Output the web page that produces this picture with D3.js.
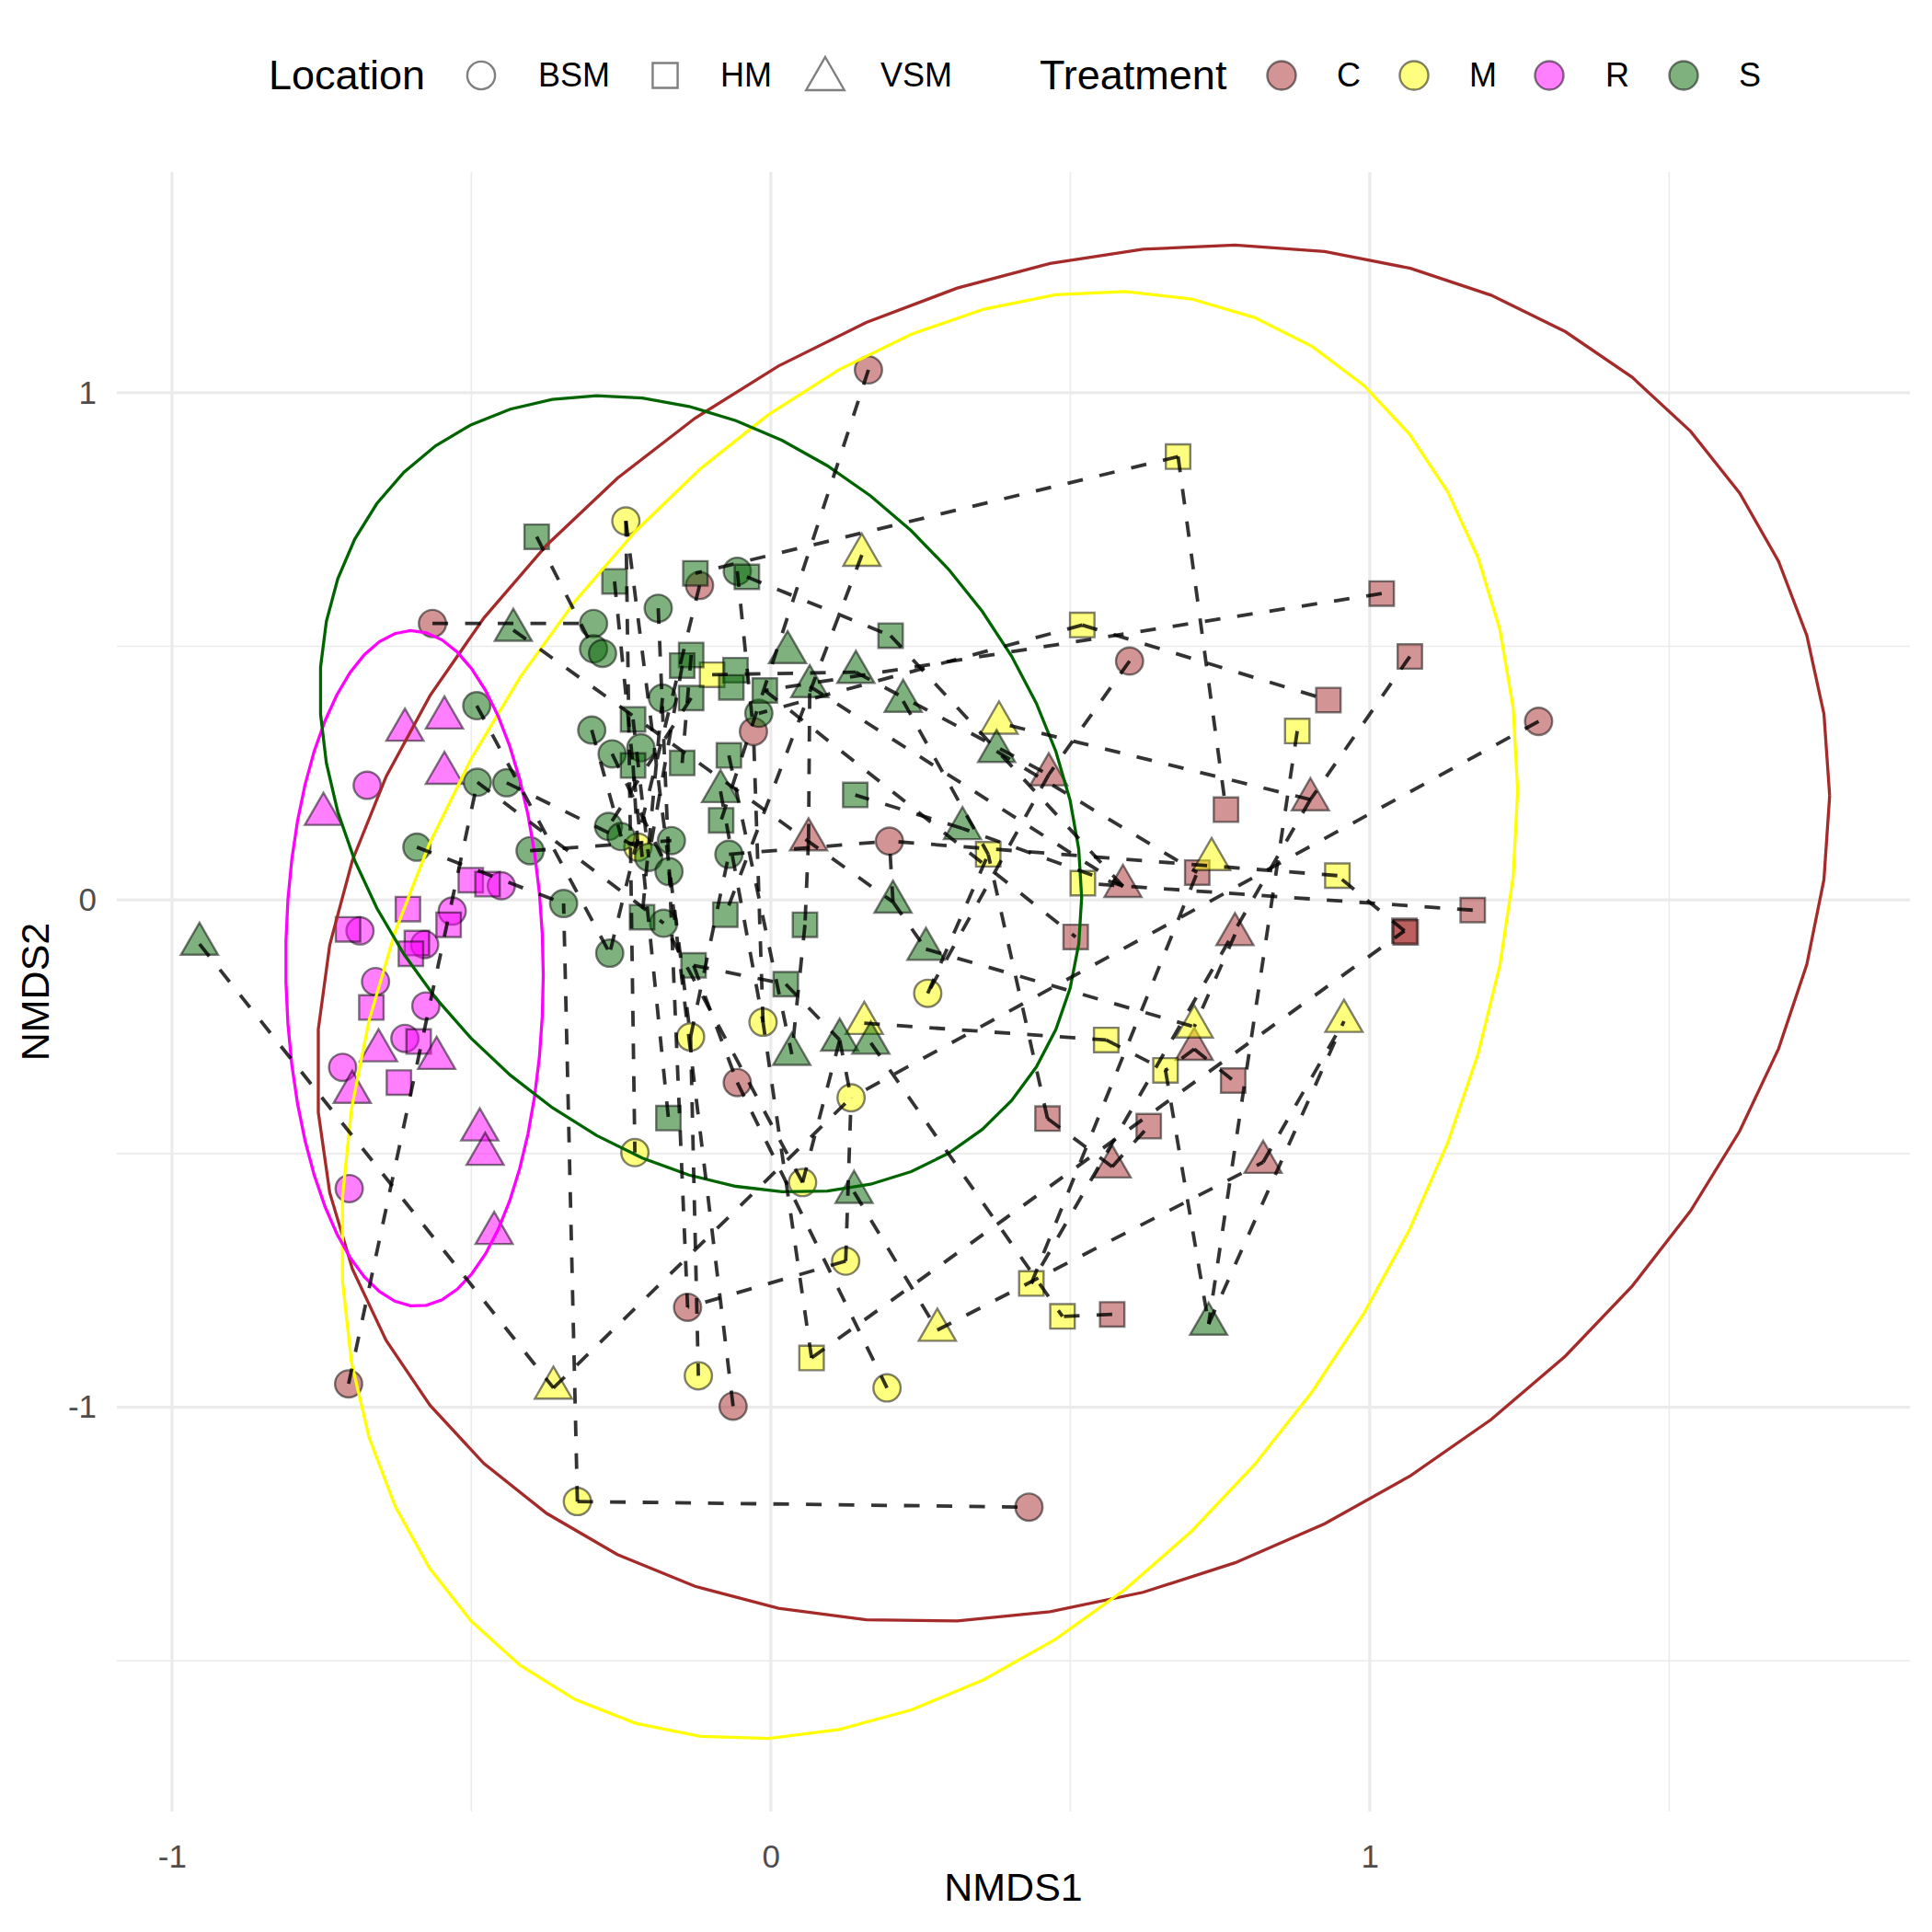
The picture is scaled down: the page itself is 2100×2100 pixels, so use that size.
<!DOCTYPE html>
<html>
<head>
<meta charset="utf-8">
<script src="https://cdn.jsdelivr.net/npm/d3@7"></script>
<style>
  html, body { margin: 0; padding: 0; background: #ffffff; }
  svg text { font-family: "Liberation Sans", Arial, Helvetica, sans-serif; }
</style>
</head>
<body>
<svg id="chart" width="2100" height="2100"></svg>
<script>
// ---------------- DATA ----------------
const locations = ["BSM", "HM", "VSM"];          // circle, square, triangle
const treatments = ["C", "M", "R", "S"];
const treatmentColors = ["#A52A2A", "#FFFF00", "#FF00FF", "#006400"];
const xTicks = [-1, 0, 1];
const yTicks = [-1, 0, 1];
const xMinor = [-0.5, 0.5, 1.5];
const yMinor = [-1.5, -0.5, 0.5];

// [id, location, NMDS1, NMDS2]
const pointsC = [
  ["Cc1","BSM",-0.565,0.545],["Cc2","BSM",0.163,1.045],["Cc3","BSM",-0.119,0.620],
  ["Cc4","BSM",-0.029,0.332],["Cc5","BSM",0.198,0.116],["Cc6","BSM",-0.056,-0.360],
  ["Cc7","BSM",0.599,0.471],["Cc8","BSM",1.282,0.352],["Cc9","BSM",-0.139,-0.803],
  ["Cc10","BSM",-0.063,-0.998],["Cc11","BSM",0.431,-1.197],["Cc12","BSM",-0.705,-0.954],
  ["Cs1","HM",1.020,0.604],["Cs2","HM",1.067,0.480],["Cs3","HM",0.931,0.394],
  ["Cs4","HM",0.760,0.178],["Cs5","HM",1.172,-0.020],["Cs6","HM",1.058,-0.061],
  ["Cs6b","HM",1.060,-0.064],["Cs7","HM",0.712,0.054],["Cs8","HM",0.509,-0.073],
  ["Cs9","HM",0.772,-0.356],["Cs10","HM",0.462,-0.431],["Cs11","HM",0.631,-0.446],
  ["Cs12","HM",0.570,-0.817],
  ["Ct1","VSM",0.464,0.247],["Ct2","VSM",0.901,0.198],["Ct3","VSM",0.588,0.027],
  ["Ct4","VSM",0.775,-0.068],["Ct5","VSM",0.707,-0.294],["Ct6","VSM",0.570,-0.526],
  ["Ct7","VSM",0.822,-0.517],["Ct8","VSM",0.063,0.119]
];
const pointsM = [
  ["Mc1","BSM",-0.242,0.747],["Mc2","BSM",-0.222,0.104],["Mc3","BSM",0.262,-0.184],
  ["Mc4","BSM",-0.013,-0.241],["Mc5","BSM",-0.134,-0.270],["Mc6","BSM",0.134,-0.390],
  ["Mc7","BSM",-0.227,-0.498],["Mc8","BSM",0.053,-0.557],["Mc9","BSM",0.125,-0.712],
  ["Mc10","BSM",-0.121,-0.938],["Mc11","BSM",0.194,-0.962],["Mc12","BSM",-0.323,-1.186],
  ["Ms1","HM",-0.098,0.444],["Ms2","HM",0.363,0.090],["Ms3","HM",0.680,0.874],
  ["Ms4","HM",0.520,0.542],["Ms5","HM",0.879,0.333],["Ms6","HM",0.946,0.048],
  ["Ms7","HM",0.521,0.033],["Ms8","HM",0.560,-0.276],["Ms9","HM",0.659,-0.336],
  ["Ms10","HM",0.068,-0.903],["Ms11","HM",0.435,-0.756],["Ms12","HM",0.487,-0.821],
  ["Mt1","VSM",0.152,0.680],["Mt2","VSM",0.381,0.349],["Mt3","VSM",0.736,0.080],
  ["Mt4","VSM",0.156,-0.243],["Mt5","VSM",0.707,-0.250],["Mt6","VSM",0.957,-0.239],
  ["Mt7","VSM",0.278,-0.848],["Mt8","VSM",-0.363,-0.962]
];
const pointsR = [
  ["Rc1","BSM",-0.674,0.226],["Rc2","BSM",-0.450,0.028],["Rc3","BSM",-0.532,-0.022],
  ["Rc4","BSM",-0.686,-0.061],["Rc5","BSM",-0.578,-0.088],["Rc6","BSM",-0.660,-0.161],
  ["Rc7","BSM",-0.576,-0.209],["Rc8","BSM",-0.611,-0.273],["Rc9","BSM",-0.715,-0.330],
  ["Rc10","BSM",-0.704,-0.569],
  ["Rs1","HM",-0.501,0.039],["Rs2","HM",-0.473,0.031],["Rs3","HM",-0.606,-0.018],
  ["Rs4","HM",-0.538,-0.049],["Rs5","HM",-0.706,-0.058],["Rs6","HM",-0.591,-0.085],
  ["Rs7","HM",-0.601,-0.106],["Rs8","HM",-0.667,-0.212],["Rs9","HM",-0.588,-0.279],
  ["Rs10","HM",-0.621,-0.360],
  ["Rt1","VSM",-0.545,0.359],["Rt2","VSM",-0.611,0.335],["Rt3","VSM",-0.545,0.250],
  ["Rt4","VSM",-0.747,0.169],["Rt5","VSM",-0.655,-0.297],["Rt6","VSM",-0.558,-0.312],
  ["Rt7","VSM",-0.699,-0.379],["Rt8","VSM",-0.486,-0.453],["Rt9","VSM",-0.477,-0.501],
  ["Rt10","VSM",-0.462,-0.657]
];
const pointsS = [
  ["Sc1","BSM",-0.296,0.545],["Sc2","BSM",-0.296,0.495],["Sc3","BSM",-0.281,0.486],
  ["Sc4","BSM",-0.491,0.383],["Sc5","BSM",-0.299,0.335],["Sc6","BSM",-0.490,0.232],
  ["Sc7","BSM",-0.441,0.231],["Sc8","BSM",-0.591,0.104],["Sc9","BSM",-0.402,0.097],
  ["Sc10","BSM",-0.346,-0.007],["Sc11","BSM",-0.056,0.648],["Sc12","BSM",-0.188,0.575],
  ["Sc13","BSM",-0.181,0.398],["Sc14","BSM",-0.020,0.368],["Sc15","BSM",-0.265,0.288],
  ["Sc16","BSM",-0.217,0.300],["Sc17","BSM",-0.271,0.145],["Sc18","BSM",-0.250,0.125],
  ["Sc19","BSM",-0.166,0.117],["Sc20","BSM",-0.204,0.084],["Sc21","BSM",-0.070,0.090],
  ["Sc22","BSM",-0.170,0.056],["Sc23","BSM",-0.179,-0.046],["Sc24","BSM",-0.269,-0.105],
  ["Ss1","HM",-0.391,0.716],["Ss2","HM",-0.261,0.628],["Ss3","HM",-0.126,0.644],
  ["Ss4","HM",-0.040,0.637],["Ss5","HM",0.200,0.521],["Ss6","HM",-0.133,0.483],
  ["Ss7","HM",-0.148,0.462],["Ss8","HM",-0.059,0.453],["Ss9","HM",-0.066,0.419],
  ["Ss10","HM",-0.010,0.413],["Ss11","HM",-0.133,0.398],["Ss12","HM",-0.230,0.356],
  ["Ss13","HM",-0.230,0.265],["Ss14","HM",-0.148,0.270],["Ss15","HM",-0.070,0.285],
  ["Ss16","HM",0.141,0.207],["Ss17","HM",-0.083,0.157],["Ss18","HM",-0.215,-0.034],
  ["Ss19","HM",-0.076,-0.029],["Ss20","HM",0.057,-0.049],["Ss21","HM",-0.129,-0.129],
  ["Ss22","HM",0.025,-0.166],["Ss23","HM",-0.171,-0.430],
  ["St1","VSM",-0.954,-0.087],["St2","VSM",-0.430,0.532],["St3","VSM",0.028,0.488],
  ["St4","VSM",0.142,0.449],["St5","VSM",0.065,0.421],["St6","VSM",0.221,0.392],
  ["St7","VSM",-0.084,0.214],["St8","VSM",0.377,0.293],["St9","VSM",0.320,0.141],
  ["St10","VSM",0.204,-0.004],["St11","VSM",0.259,-0.097],["St12","VSM",0.115,-0.276],
  ["St13","VSM",0.167,-0.282],["St14","VSM",0.035,-0.304],["St15","VSM",0.139,-0.576],
  ["St16","VSM",0.731,-0.836]
];

// dashed connections between samples [from id, to id]
const links = [
  ["Mc12","Cc11"],["Mc12","Sc10"],["St1","Mt8"],["Mt8","Mc6"],["Cc12","Sc6"],["Cc1","Sc1"],
  ["Ms3","Ss3"],["Ms3","Cs4"],["Cs1","Ss10"],["Ms4","Sc14"],["Ms4","Cs3"],["Cc8","Mc6"],
  ["Cs2","Ct2"],["Ct2","Mt2"],["Ct2","Ms11"],["Ms5","St16"],["Cs5","Ms7"],["Cs6","Ms6"],
  ["Ms6","Cc5"],["Ct7","Mt6"],["Mt7","Ct7"],["Cs12","Ms12"],["Ms11","Cs7"],["Ms10","Cs6"],
  ["Ms10","Mc4"],["Mc4","Cc4"],["Mc9","Cc9"],["Cc6","Mc11"],["Cc2","Ss17"],["Mt1","Ss19"],
  ["Mc1","Mc7"],["Mc1","Mc5"],["Ss1","Sc2"],["Ss4","Ss5"],["Cc7","Ct1"],["Ct1","Mc3"],
  ["St16","Mt6"],["Ms9","St16"],["Mt4","Ms8"],["Ms8","Ms9"],["Ct5","Cs9"],["Ct5","Ms9"],
  ["Ct4","Mt5"],["Ct6","Cs10"],["Ct6","Cs11"],["Cs10","Ms2"],["St8","Cs7"],["Ct3","St9"],
  ["Sc12","Cc9"],["Cc3","Sc24"],["Sc4","Sc24"],["Sc7","Mc2"],["Sc6","Sc23"],["Sc8","Sc10"],
  ["Sc9","Sc19"],["Ct8","St5"],["Ct8","Ss20"],["Ss20","St14"],["Ss22","St12"],["Ss21","Ss22"],
  ["Ss21","Cc6"],["Mc5","Sc21"],["Mc5","Mc10"],["Mc3","Ms2"],["St9","Ss16"],["St10","St11"],
  ["St10","Cc5"],["St11","Mt5"],["St13","Ms12"],["St12","Mc6"],["St15","Mt7"],["St4","Ct1"],
  ["St5","Ct3"],["Ss10","Cs8"],["Ss5","Ct3"],["Sc21","Cc5"],["Ms1","St4"],["St2","St10"],
  ["Ss2","Ss23"],["Sc11","Cc4"],["Ss6","Ss14"],["Ss12","Sc20"],["Ss13","Mc2"],["Sc15","Sc22"],
  ["Mc8","Sc23"],["Mc8","St12"],["Cc10","Sc22"],["Mc9","Mc6"],["St7","Mc4"],["Ss15","St14"],
  ["Sc13","Ss18"],["Ss11","Sc17"],["St6","Ms2"],["Ss7","Sc20"],["Sc5","Sc18"]
];

// 95% ellipses per treatment: [treatment, centreX, centreY, halfWidthX, halfHeightY, tilt(cos of phase)]
const ellipses = [
  ["C", 0.505, -0.066, 1.263, 1.357, 0.20],
  ["M", 0.265, -0.227, 0.982, 1.427, 0.31],
  ["R", -0.595, -0.135, 0.215, 0.666, -0.02],
  ["S", -0.117, 0.209, 0.636, 0.785, -0.26]
];

// ---------------- LAYOUT ----------------
const svg = d3.select("#chart");
const panel = { left: 127, right: 2076, top: 187, bottom: 1969 };
const x = d3.scaleLinear().domain([-1.092, 1.902]).range([panel.left, panel.right]);
const y = d3.scaleLinear().domain([-1.797, 1.435]).range([panel.bottom, panel.top]);
const color = d3.scaleOrdinal().domain(treatments).range(treatmentColors);

const CIRCLE_R = 14.8, SQUARE_H = 13.3, TRI_R = 23.3;
function shapePath(loc, r) {
  const k = r || 1;
  if (loc === "BSM") { const a = CIRCLE_R * k; return `M${-a},0A${a},${a} 0 1,0 ${a},0A${a},${a} 0 1,0 ${-a},0Z`; }
  if (loc === "HM") { const h = SQUARE_H * k; return `M${-h},${-h}H${h}V${h}H${-h}Z`; }
  const t = TRI_R * k;
  return `M0,${-t}L${t * 0.866},${t / 2}L${-t * 0.866},${t / 2}Z`;
}

// grid
const grid = svg.append("g");
grid.selectAll(".gxm").data(xMinor).join("line")
  .attr("x1", d => x(d)).attr("x2", d => x(d)).attr("y1", panel.top).attr("y2", panel.bottom)
  .attr("stroke", "#ebebeb").attr("stroke-width", 1.6);
grid.selectAll(".gym").data(yMinor).join("line")
  .attr("y1", d => y(d)).attr("y2", d => y(d)).attr("x1", panel.left).attr("x2", panel.right)
  .attr("stroke", "#ebebeb").attr("stroke-width", 1.6);
grid.selectAll(".gx").data(xTicks).join("line")
  .attr("x1", d => x(d)).attr("x2", d => x(d)).attr("y1", panel.top).attr("y2", panel.bottom)
  .attr("stroke", "#ebebeb").attr("stroke-width", 3.2);
grid.selectAll(".gy").data(yTicks).join("line")
  .attr("y1", d => y(d)).attr("y2", d => y(d)).attr("x1", panel.left).attr("x2", panel.right)
  .attr("stroke", "#ebebeb").attr("stroke-width", 3.2);

// axes (tick labels only, theme_minimal)
const xAxis = svg.append("g").attr("transform", `translate(0,${panel.bottom})`)
  .call(d3.axisBottom(x).tickValues(xTicks).tickSize(0).tickPadding(36).tickFormat(d3.format("d")));
const yAxis = svg.append("g").attr("transform", `translate(${panel.left},0)`)
  .call(d3.axisLeft(y).tickValues(yTicks).tickSize(0).tickPadding(22).tickFormat(d3.format("d")));
[xAxis, yAxis].forEach(a => {
  a.select(".domain").remove();
  a.selectAll("text").attr("font-size", 35).attr("fill", "#4d4d4d")
    .attr("font-family", "Liberation Sans, Arial, sans-serif");
});
xAxis.selectAll("text").text(d => d < 0 ? "-" + Math.abs(d) : d);
yAxis.selectAll("text").text(d => d < 0 ? "-" + Math.abs(d) : d);

svg.append("text").attr("x", (panel.left + panel.right) / 2).attr("y", 2066)
  .attr("text-anchor", "middle").attr("font-size", 43).attr("fill", "#000").text("NMDS1");
svg.append("text").attr("transform", `translate(53,${(panel.top + panel.bottom) / 2}) rotate(-90)`)
  .attr("text-anchor", "middle").attr("font-size", 43).attr("fill", "#000").text("NMDS2");

// points
const allPoints = [
  ...pointsC.map(p => ({ id: p[0], loc: p[1], x: p[2], y: p[3], t: "C" })),
  ...pointsM.map(p => ({ id: p[0], loc: p[1], x: p[2], y: p[3], t: "M" })),
  ...pointsR.map(p => ({ id: p[0], loc: p[1], x: p[2], y: p[3], t: "R" })),
  ...pointsS.map(p => ({ id: p[0], loc: p[1], x: p[2], y: p[3], t: "S" }))
];
const byId = new Map(allPoints.map(p => [p.id, p]));

svg.append("g").selectAll("path").data(allPoints).join("path")
  .attr("transform", d => `translate(${x(d.x)},${y(d.y)})`)
  .attr("d", d => shapePath(d.loc))
  .attr("fill", d => color(d.t)).attr("fill-opacity", 0.5)
  .attr("stroke", "#000").attr("stroke-opacity", 0.5).attr("stroke-width", 2.4);

// ellipses
const line = d3.line().x(d => x(d[0])).y(d => y(d[1]));
const eg = svg.append("g");
ellipses.forEach(e => {
  const [t, cx, cy, rx, ry, c] = e;
  const delta = Math.acos(c);
  const pts = d3.range(52).map(i => {
    const a = (i / 51) * 2 * Math.PI;
    return [cx + rx * Math.cos(a), cy + ry * Math.cos(a - delta)];
  });
  eg.append("path").attr("d", line(pts)).attr("fill", "none")
    .attr("stroke", color(t)).attr("stroke-width", 3.3);
});

// dashed links
svg.append("g").selectAll("line").data(links).join("line")
  .attr("x1", d => x(byId.get(d[0]).x)).attr("y1", d => y(byId.get(d[0]).y))
  .attr("x2", d => x(byId.get(d[1]).x)).attr("y2", d => y(byId.get(d[1]).y))
  .attr("stroke", "#000").attr("stroke-opacity", 0.8).attr("stroke-width", 3.8)
  .attr("stroke-dasharray", "17,18.5");

// legend
const lg = svg.append("g");
const legY = 82;
lg.append("text").attr("x", 292).attr("y", 97).attr("font-size", 45).text("Location");
const locKeyX = [523, 723, 897];
const locTextX = [585, 783, 957];
locations.forEach((l, i) => {
  lg.append("path").attr("transform", `translate(${locKeyX[i]},${legY + (l === "VSM" ? 4 : 0)})`)
    .attr("d", shapePath(l, l === "VSM" ? 1.03 : 1.02)).attr("fill", "none")
    .attr("stroke", "#000").attr("stroke-opacity", 0.5).attr("stroke-width", 2.4);
  lg.append("text").attr("x", locTextX[i]).attr("y", 94).attr("font-size", 36).text(l);
});
lg.append("text").attr("x", 1130).attr("y", 97).attr("font-size", 45).text("Treatment");
const trKeyX = [1393, 1537, 1684, 1830];
const trTextX = [1453, 1597, 1745, 1890];
treatments.forEach((t, i) => {
  lg.append("path").attr("transform", `translate(${trKeyX[i]},${legY})`)
    .attr("d", shapePath("BSM", 1.05)).attr("fill", color(t)).attr("fill-opacity", 0.5)
    .attr("stroke", "#000").attr("stroke-opacity", 0.5).attr("stroke-width", 2.4);
  lg.append("text").attr("x", trTextX[i]).attr("y", 94).attr("font-size", 36).text(t);
});
</script>
</body>
</html>
